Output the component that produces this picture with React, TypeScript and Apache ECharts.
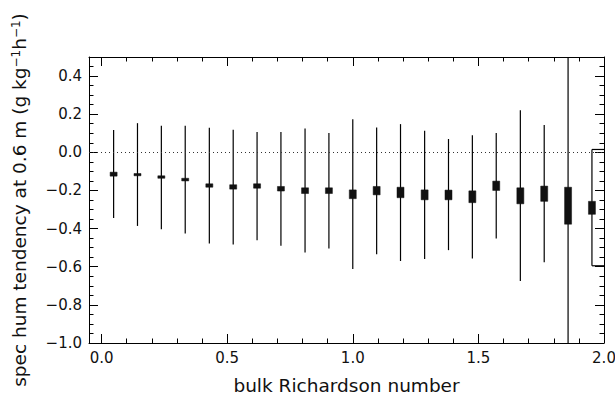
import React, { useEffect, useRef } from 'react';
import * as echarts from 'echarts';

// bin centres of the bulk Richardson number
const binCenters = [0.048, 0.143, 0.238, 0.333, 0.429, 0.524, 0.619, 0.714, 0.810, 0.905, 1.000, 1.095, 1.190, 1.286, 1.381, 1.476, 1.571, 1.667, 1.762, 1.857, 1.952];
// whisker ends
const whiskerHigh = [0.117, 0.153, 0.139, 0.139, 0.129, 0.118, 0.106, 0.106, 0.125, 0.101, 0.174, 0.130, 0.148, 0.113, 0.070, 0.090, 0.101, 0.221, 0.143, 0.5, 0.015];
const whiskerLow = [-0.344, -0.386, -0.403, -0.426, -0.478, -0.483, -0.461, -0.490, -0.525, -0.504, -0.612, -0.534, -0.570, -0.560, -0.513, -0.557, -0.452, -0.675, -0.577, -1.0, -0.595];
// box ends
const boxHigh = [-0.104, -0.111, -0.123, -0.136, -0.165, -0.170, -0.165, -0.179, -0.186, -0.186, -0.197, -0.179, -0.183, -0.197, -0.198, -0.202, -0.151, -0.186, -0.177, -0.183, -0.257];
const boxLow = [-0.125, -0.123, -0.136, -0.150, -0.183, -0.193, -0.188, -0.203, -0.216, -0.216, -0.243, -0.223, -0.238, -0.249, -0.249, -0.264, -0.200, -0.270, -0.257, -0.377, -0.325];
// caps of the last bin, drawn towards the right frame
const lastBinCaps = [0.015, -0.595];

const X_MIN = -0.05;
const X_MAX = 2.0;
const Y_MIN = -1.0;
const Y_MAX = 0.5;
const X_MAJOR = 0.5;
const X_MINOR = 0.1;
const Y_MAJOR = 0.2;
const Y_MINOR = 0.05;

const FONT = 'DejaVu Sans';
const INK = '#000';
const TEXT = '#111';

const fmt = (v: number) => v.toFixed(1).replace('-', '\u2212');

function makeX(position: string, major: boolean, labels: boolean, line: boolean, name?: string) {
  const iv = major ? X_MAJOR : X_MINOR;
  return {
    type: 'value',
    position,
    min: X_MIN,
    max: X_MAX,
    minInterval: iv,
    maxInterval: iv,
    splitNumber: major ? 4 : 20,
    axisLine: { show: line, onZero: false, lineStyle: { color: INK, width: 1 } },
    axisTick: { show: true, inside: true, length: major ? 9 : 4.5, lineStyle: { color: INK, width: 1 } },
    axisLabel: {
      show: labels,
      showMinLabel: false,
      margin: 7,
      fontFamily: FONT,
      fontSize: 15,
      color: TEXT,
      formatter: fmt,
    },
    splitLine: { show: false },
    name: name || '',
    nameLocation: 'middle',
    nameGap: 33,
    nameMoveOverlap: false,
    nameTextStyle: { fontFamily: FONT, fontSize: 18.5, color: TEXT },
  };
}

function makeY(position: string, major: boolean, labels: boolean, line: boolean, name?: string) {
  const iv = major ? Y_MAJOR : Y_MINOR;
  return {
    type: 'value',
    position,
    min: Y_MIN,
    max: Y_MAX,
    minInterval: iv,
    maxInterval: iv,
    splitNumber: major ? 7 : 30,
    axisLine: { show: line, onZero: false, lineStyle: { color: INK, width: 1 } },
    axisTick: { show: true, inside: true, length: major ? 9 : 4.5, lineStyle: { color: INK, width: 1 } },
    axisLabel: {
      show: labels,
      showMaxLabel: false,
      margin: 7,
      fontFamily: FONT,
      fontSize: 15,
      color: TEXT,
      formatter: fmt,
    },
    splitLine: { show: false },
    name: name || '',
    nameLocation: 'middle',
    nameGap: 60,
    nameRotate: 90,
    nameMoveOverlap: false,
    nameTextStyle: {
      fontFamily: FONT,
      fontSize: 18.5,
      color: TEXT,
      rich: {
        sup: { fontFamily: FONT, fontSize: 12, color: TEXT, verticalAlign: 'top' },
      },
    },
  };
}

export default function App() {
  const ref = useRef<HTMLDivElement>(null);

  useEffect(() => {
    if (!ref.current) return;
    const chart = echarts.init(ref.current, null, { renderer: 'svg' });

    const binData = binCenters.map((x, i) => [x, whiskerLow[i], whiskerHigh[i], boxLow[i], boxHigh[i]]);
    const capData = lastBinCaps.map((y) => [binCenters[binCenters.length - 1], y]);

    const option = {
      animation: false,
      backgroundColor: '#fff',
      grid: { left: 89, top: 57, width: 515, height: 286, containLabel: false, outerBoundsMode: 'none', show: false },
      xAxis: [
        makeX('bottom', true, true, true, 'bulk Richardson number'),
        makeX('bottom', false, false, false),
        makeX('top', true, false, true),
        makeX('top', false, false, false),
      ],
      yAxis: [
        makeY('left', true, true, true, 'spec hum tendency at 0.6 m (g kg{sup|\u22121}h{sup|\u22121})'),
        makeY('left', false, false, false),
        makeY('right', true, false, true),
        makeY('right', false, false, false),
      ],
      series: [
        {
          type: 'custom',
          xAxisIndex: 0,
          yAxisIndex: 0,
          data: binData,
          encode: { x: 0, y: [1, 2, 3, 4] },
          renderItem: (params: any, api: any) => {
            const x = api.value(0);
            const lo = api.coord([x, api.value(1)]);
            const hi = api.coord([x, api.value(2)]);
            const bLo = api.coord([x, api.value(3)]);
            const bHi = api.coord([x, api.value(4)]);
            const w = 7;
            return {
              type: 'group',
              children: [
                {
                  type: 'line',
                  shape: { x1: lo[0], y1: lo[1], x2: hi[0], y2: hi[1] },
                  style: { stroke: INK, lineWidth: 1.2 },
                },
                {
                  type: 'rect',
                  shape: { x: bLo[0] - w / 2, y: bHi[1], width: w, height: bLo[1] - bHi[1] },
                  style: { fill: '#111', stroke: '#111', lineWidth: 0.5 },
                },
              ],
            };
          },
          markLine: {
            silent: true,
            symbol: ['none', 'none'],
            label: { show: false },
            lineStyle: { color: '#333', width: 1, type: [1, 3] },
            data: [{ yAxis: 0 }],
          },
          z: 3,
        },
        {
          type: 'custom',
          xAxisIndex: 0,
          yAxisIndex: 0,
          data: capData,
          renderItem: (params: any, api: any) => {
            const a = api.coord([api.value(0), api.value(1)]);
            const b = api.coord([X_MAX, api.value(1)]);
            return {
              type: 'line',
              shape: { x1: a[0], y1: a[1], x2: b[0], y2: b[1] },
              style: { stroke: INK, lineWidth: 1.2 },
            };
          },
          z: 3,
        },
      ],
    };

    chart.setOption(option as any);
    return () => chart.dispose();
  }, []);

  return (
    <div
      ref={ref}
      style={{ position: 'fixed', left: 0, top: 0, width: 615, height: 402, background: '#fff' }}
    />
  );
}
